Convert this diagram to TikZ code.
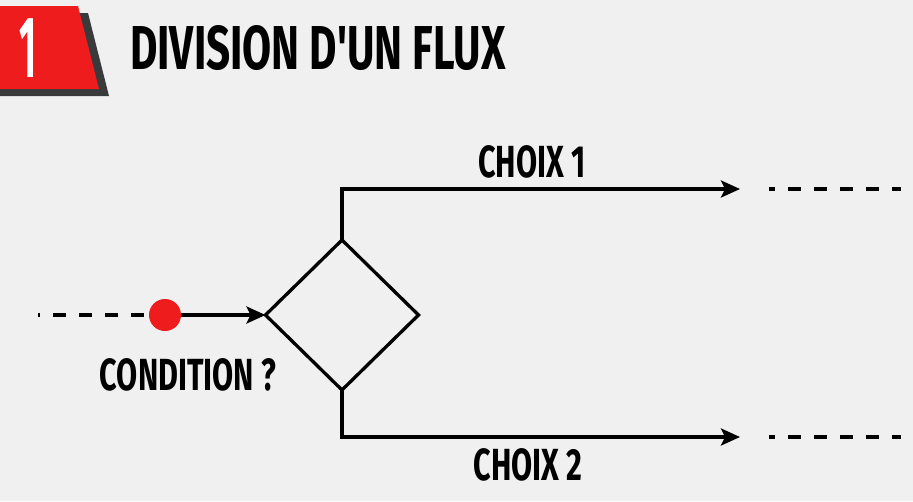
\documentclass[tikz,border=0pt]{standalone}
\usepackage{fontspec}
\setmainfont[FakeStretch=0.68, Ligatures=TeXOff]{Fira Sans}
\usetikzlibrary{shapes.geometric,arrows.meta}
\definecolor{bg}{HTML}{F0F0F0}
\definecolor{badgered}{HTML}{EE1C1C}
\definecolor{shadowgray}{HTML}{383A3C}
\tikzset{
  flow/.style={line width=3.3pt, draw=black},
  tip/.style={-{Stealth[length=19pt,width=17pt,inset=4pt]}},
  dashline/.style={line width=3.3pt, dash pattern=on 13pt off 13pt},
  lbl/.style={inner sep=0pt, font=\fontsize{45}{45}\selectfont\bfseries},
}
\begin{document}
\begin{tikzpicture}[x=1pt,y=-1pt]
\fill[bg] (0,0) rectangle (913,501);
\useasboundingbox (0,0) rectangle (913,501);
% badge
\fill[shadowgray] (0,13) -- (88,13) -- (109,96) -- (0,96) -- cycle;
\fill[badgered] (0,6) -- (78,6) -- (99,89) -- (0,89) -- cycle;
\node[inner sep=0pt, text=white, font=\fontsize{87}{87}\selectfont\bfseries] (num) at (28,48) {\scalebox{0.62}[1]{1}};
\node[inner sep=0pt, anchor=west, font=\fontsize{62}{62}\selectfont\bfseries] (title) at (130,48) {DIVISION D'UN FLUX};
% diamond
\node[diamond, draw, line width=3.3pt, minimum width=153pt, minimum height=150pt, inner sep=0pt, outer sep=0pt] (d) at (342,315) {};
% input
\coordinate (in) at (38,315);
\node[circle, fill=badgered, minimum size=32pt, inner sep=0pt] (dot) at (165,315) {};
\draw[dashline, dash phase=11pt] (in) -- (dot.west);
\draw[flow, tip] (dot.east) -- (d.west);
% outputs
\coordinate (a1) at (740,189);
\coordinate (b1) at (769,189);
\coordinate (c1) at (901,189);
\coordinate (a2) at (740,437);
\coordinate (b2) at (769,437);
\coordinate (c2) at (901,437);
\draw[flow, tip] (d.north) |- (a1);
\draw[flow, tip] (d.south) |- (a2);
\draw[dashline, dash phase=7pt] (b1) -- (c1);
\draw[dashline, dash phase=7pt] (b2) -- (c2);
% labels
\node[lbl] (l1) at (532,162) {CHOIX 1};
\node[lbl] (l2) at (528,465) {CHOIX 2};
\node[lbl] (lc) at (188,375) {CONDITION ?};
\end{tikzpicture}
\end{document}
